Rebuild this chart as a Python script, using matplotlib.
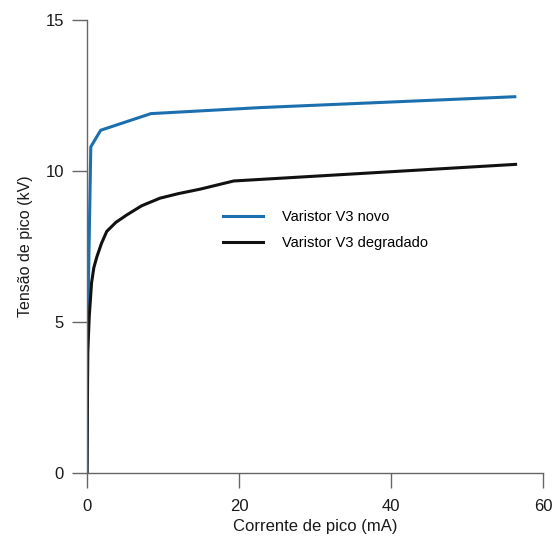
import matplotlib.pyplot as plt

plt.rcParams['font.family'] = ['Liberation Sans', 'DejaVu Sans']

# Varistor V3 novo
i_novo = [0.0, 0.1, 0.5, 1.8, 8.4, 22.8, 56.3]
v_novo = [0.0, 5.0, 10.8, 11.35, 11.9, 12.1, 12.46]

# Varistor V3 degradado
i_degr = [0.0, 0.1, 0.3, 0.6, 0.9, 1.3, 1.9, 2.6, 3.8, 5.2, 7.2, 9.6, 12.0, 14.9, 19.3, 56.4]
v_degr = [0.0, 4.0, 5.2, 6.3, 6.8, 7.16, 7.6, 8.0, 8.3, 8.54, 8.85, 9.1, 9.25, 9.4, 9.67, 10.22]

x_ticks = [0, 20, 40, 60]
y_ticks = [0, 5, 10, 15]

fig = plt.figure(figsize=(5.52, 5.38), dpi=100)
ax = fig.add_axes([0.1576, 0.1208, 0.826, 0.842])

ax.plot(i_novo, v_novo, color='#1c6fae', lw=2.2, label='Varistor V3 novo')
ax.plot(i_degr, v_degr, color='#111111', lw=2.2, label='Varistor V3 degradado')

ax.set_xlim(0, 60)
ax.set_ylim(0, 15)
ax.set_xticks(x_ticks)
ax.set_yticks(y_ticks)

for s in ['top', 'right']:
    ax.spines[s].set_visible(False)
for s in ['left', 'bottom']:
    ax.spines[s].set_color('#666666')
    ax.spines[s].set_linewidth(1.0)

ax.tick_params(axis='both', direction='out', length=10.5, width=1.0,
               color='#666666', labelsize=12, labelcolor='#1a1a1a')
ax.tick_params(axis='x', pad=8)
ax.tick_params(axis='y', pad=6)

ax.set_xlabel('Corrente de pico (mA)', fontsize=12, color='#1a1a1a', labelpad=4)
ax.set_ylabel('Tensão de pico (kV)', fontsize=11.5, color='#1a1a1a', labelpad=9)

ax.legend(loc='upper left', bbox_to_anchor=(0.27, 0.61), frameon=False,
          fontsize=10.5, handlelength=2.7, handletextpad=1.3, labelspacing=0.85)

fig.savefig('out.png', dpi=100)
